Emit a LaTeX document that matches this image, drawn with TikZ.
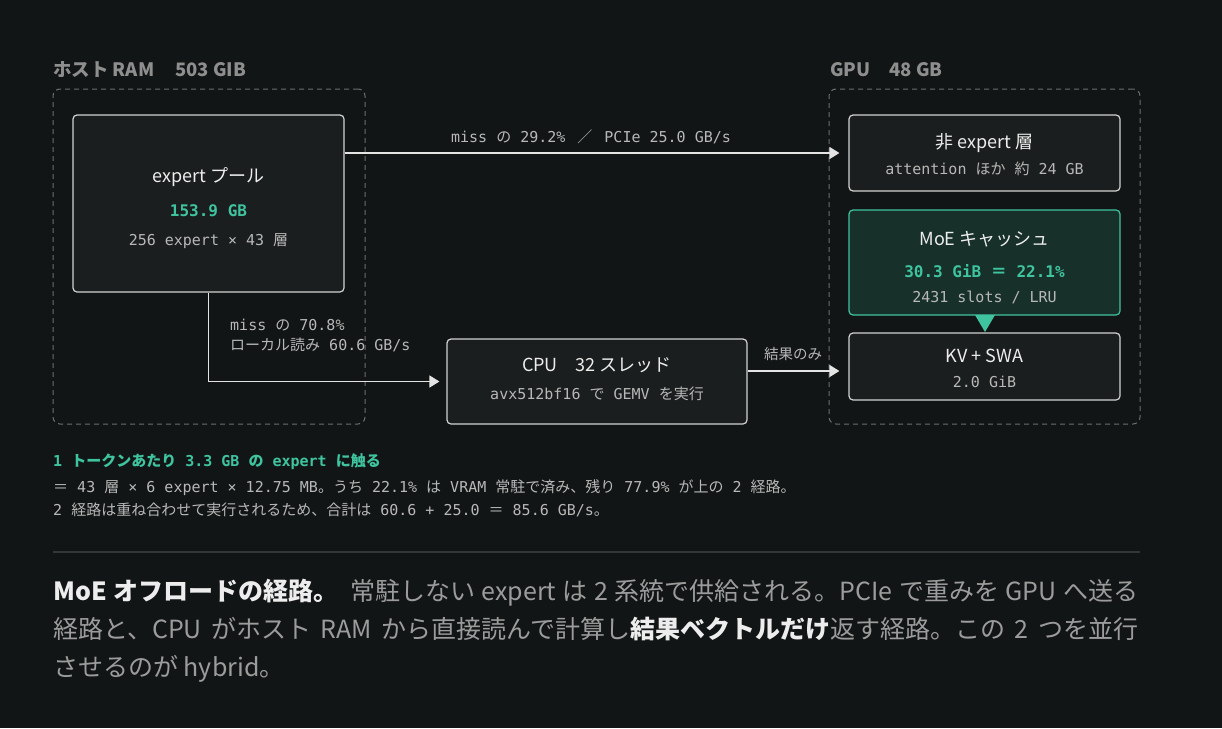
\documentclass[tikz,border=0pt]{standalone}
\usepackage{fontspec}
\setmainfont{Noto Sans CJK JP}
\newfontfamily\jp{Noto Sans CJK JP}
\newfontfamily\mono{DejaVu Sans Mono}
\usetikzlibrary{arrows.meta}
\definecolor{bg}{HTML}{121515}
\definecolor{boxfill}{HTML}{1B1E1E}
\definecolor{boxline}{HTML}{D2D2D2}
\definecolor{dashc}{HTML}{6E6E6E}
\definecolor{tealc}{HTML}{3FC4A0}
\definecolor{moefill}{HTML}{173029}
\definecolor{txtw}{HTML}{EDEDED}
\definecolor{subg}{HTML}{B8B8B8}
\definecolor{hdrg}{HTML}{8E8E8E}
\definecolor{capg}{HTML}{9C9C9C}
\definecolor{arrc}{HTML}{E4E4E4}
\definecolor{sepc}{HTML}{343737}
\newcommand\jx[1]{{\jp #1}}
\newcommand\fsz[1]{\fontsize{#1}{#1}\selectfont}
\begin{document}
\begin{tikzpicture}[x=1pt,y=-1pt,
  region/.style={draw=dashc, dash pattern=on 5pt off 4pt, line width=1pt, rounded corners=7pt, inner sep=0pt, fill=none},
  box/.style={draw=boxline, fill=boxfill, line width=1.2pt, rounded corners=4pt, inner sep=0pt},
  hdr/.style={anchor=base west, inner sep=0pt, text=hdrg, font=\jp\bfseries\fsz{18.5}},
  ttl/.style={anchor=base, inner sep=0pt, text=txtw, font=\jp\fsz{18}},
  sub/.style={anchor=base, inner sep=0pt, text=subg, font=\mono\fsz{15}},
  num/.style={anchor=base, inner sep=0pt, text=tealc, font=\mono\bfseries\fsz{16}},
  lbl/.style={inner sep=0pt, text=subg, font=\mono\fsz{15}},
  conn/.style={draw=arrc, line width=1.5pt, -{Triangle[length=10pt,width=12pt]}, shorten >=9pt},
  note/.style={anchor=base west, inner sep=0pt, text=subg, font=\mono\fsz{15}},
  captxt/.style={anchor=base west, inner sep=0pt, text=capg, font=\jp\fsz{25}}
]
\useasboundingbox (0,0) rectangle (1222,728);
\fill[bg] (0,0) rectangle (1222,728);

% regions
\node[region, minimum width=312pt, minimum height=335pt] (host) at (209,256.5) {};
\node[region, minimum width=311pt, minimum height=335pt] (gpu) at (984.5,256.5) {};
\node[hdr] (hostH) at (53,76) {ホスト RAM\hspace{21pt}503 GIB};
\node[hdr] (gpuH) at (830,76) {GPU\hspace{19pt}48 GB};

% boxes
\node[box, minimum width=271pt, minimum height=177pt] (pool) at (208.5,203.5) {};
\node[box, minimum width=271pt, minimum height=76pt] (nonexp) at (984.5,153) {};
\node[box, draw=tealc, fill=moefill, minimum width=271pt, minimum height=105pt] (moe) at (984.5,262.5) {};
\node[box, minimum width=271pt, minimum height=67pt] (kv) at (984.5,366.5) {};
\node[box, minimum width=300pt, minimum height=85pt] (cpu) at (597,381.5) {};

% box texts
\node[ttl] (poolT) at (208.5,182.5) {expert プール};
\node[num] (poolN) at (208.5,216.5) {153.9 GB};
\node[sub] (poolS) at (208.5,245.5) {256 expert × 43 \jx{層}};

\node[ttl] (nonT) at (984.5,148.5) {非 expert 層};
\node[sub] (nonS) at (984.5,174.5) {attention \jx{ほか}\hspace{9pt}\jx{約} 24 GB};

\node[ttl] (moeT) at (984.5,245.5) {MoE キャッシュ};
\node[num] (moeN) at (984.5,277.5) {30.3 GiB \jx{\bfseries ＝} 22.1\%};
\node[sub] (moeS) at (984.5,302.5) {2431 slots / LRU};

\node[ttl] (kvT) at (984.5,362.5) {KV + SWA};
\node[sub] (kvS) at (984.5,387.5) {2.0 GiB};

\node[ttl] (cpuT) at (597,371.5) {CPU\hspace{18pt}32 スレッド};
\node[sub] (cpuS) at (597,399.5) {avx512bf16 \jx{で} GEMV \jx{を実行}};

% cache-to-kv marker
\coordinate (triL) at (975,315);
\coordinate (triR) at (995,315);
\coordinate (triB) at (985,332);
\fill[tealc] (triL) -- (triR) -- (triB) -- cycle;

% connectors
\draw[conn] (pool.east |- nonexp.west) -- (nonexp.west);
\node[lbl, anchor=base] (lblPCIe) at (591,142.5) {miss \jx{の} 29.2\%\hspace{12pt}\jx{／}\hspace{12pt}PCIe 25.0 GB/s};

\draw[conn, shorten >=7pt] (pool.south) |- (cpu.west);
\node[lbl, anchor=base west] (lblLoc1) at (230,330.5) {miss \jx{の} 70.8\%};
\node[lbl, anchor=base west] (lblLoc2) at (230,350.5) {\jx{ローカル読み} 60.6 GB/s};

\coordinate (resY) at (0,371);
\draw[conn] (cpu.east |- resY) -- (kv.west |- resY);
\node[inner sep=0pt, anchor=base, text=subg, font=\jp\fsz{14.5}] (lblRes) at (793,359.5) {結果のみ};

% notes
\node[note, text=tealc, font=\mono\bfseries\fsz{15}] (n1) at (53,466.5) {1 \jx{\bfseries トークンあたり} 3.3 GB \jx{\bfseries の} expert \jx{\bfseries に触る}};
\node[note] (n2) at (53,492.5) {\jx{＝} 43 \jx{層} × 6 expert × 12.75 MB\jx{。うち} 22.1\% \jx{は} VRAM \jx{常駐で済み、残り} 77.9\% \jx{が上の} 2 \jx{経路。}};
\node[note] (n3) at (53,515.5) {2 \jx{経路は重ね合わせて実行されるため、合計は} 60.6 + 25.0 \jx{＝} 85.6 GB/s\jx{。}};

% separator
\coordinate (sepL) at (53,552);
\coordinate (sepR) at (1140,552);
\draw[sepc, line width=1.5pt] (sepL) -- (sepR);

% caption
\node[captxt] (c1) at (53,600) {\hbox to 1085pt{{\color{txtw}\bfseries MoE オフロードの経路。}\hspace{0.2em} 常駐しない expert は 2 系統で供給される。PCIe で重みを GPU へ送る}};
\node[captxt] (c2) at (53,638.5) {\hbox to 1085pt{経路と、CPU がホスト RAM から直接読んで計算し{\color{txtw}\bfseries 結果ベクトルだけ}返す経路。この 2 つを並行}};
\node[captxt] (c3) at (53,676) {させるのが hybrid。};
\end{tikzpicture}
\end{document}
